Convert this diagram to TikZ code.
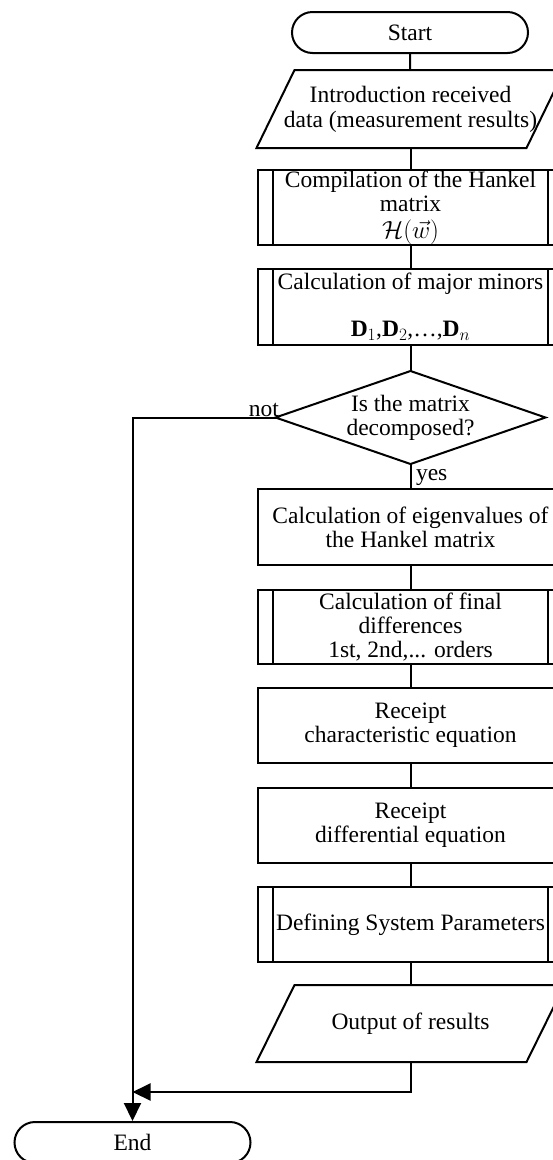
\documentclass[tikz,border=0pt]{standalone}
\usepackage{fontspec}
\setmainfont{Liberation Serif}
\usetikzlibrary{arrows.meta}
\begin{document}
\begin{tikzpicture}[x=1pt,y=-1pt,line width=2pt,
  every node/.style={font=\fontsize{23.5}{24}\selectfont, align=center, inner sep=0pt},
  box/.style={draw, line width=2pt, minimum width=305pt, minimum height=75pt},
  predef/.style={box, path picture={
      \draw[line width=2pt] ([xshift=15pt]path picture bounding box.north west) -- ([xshift=15pt]path picture bounding box.south west)
        ([xshift=-15pt]path picture bounding box.north east) -- ([xshift=-15pt]path picture bounding box.south east);}},
  term/.style={draw, line width=2pt, rounded corners=20.5pt, minimum width=236pt, minimum height=41pt},
  io/.style={minimum width=268pt, minimum height=76pt},
  dec/.style={minimum width=268pt, minimum height=91pt},
  conn/.style={line width=2pt},
  arr/.style={line width=2pt, -{Triangle[length=18pt,width=17pt]}}
]
\useasboundingbox (0,0) rectangle (552,1160);

\node[term] (start) at (410,32.5) {Start};
\node[io, font=\fontsize{23.5}{25}\selectfont] (in) at (410.5,109) {Introduction received\\data (measurement results)};
\draw[conn] ([xshift=-19pt]in.south west) -- ([xshift=19pt]in.north west) -- ([xshift=19pt]in.north east) -- ([xshift=-19pt]in.south east) -- cycle;
\node[predef, font=\fontsize{23.5}{24}\selectfont] (hank) at (410.5,207.5) {Compilation of the Hankel\\matrix\\[3pt]$\mathcal{H}(\vec{w})$};
\node[predef, minimum height=76pt] (minors) at (410.5,307) {Calculation of major minors\\[23pt]\textbf{D}$_1$,\textbf{D}$_2$,\ldots,\textbf{D}$_n$};
\node[dec] (dia) at (410.5,417.5) {Is the matrix\\decomposed?};
\draw[conn] (dia.north) -- (dia.east) -- (dia.south) -- (dia.west) -- cycle;
\node[box, minimum height=76pt] (eig) at (410.5,527) {Calculation of eigenvalues of\\the Hankel matrix};
\node[predef, minimum height=74pt] (diff) at (410.5,627) {Calculation of final\\differences\\1st, 2nd,... orders};
\node[box] (char) at (410.5,725.5) {Receipt\\characteristic equation};
\node[box] (deq) at (410.5,825.5) {Receipt\\differential equation};
\node[predef] (defs) at (410.5,924.5) {Defining System Parameters};
\node[io, minimum height=75pt] (out) at (410.5,1023.5) {Output of results};
\draw[conn] ([xshift=-19pt]out.south west) -- ([xshift=19pt]out.north west) -- ([xshift=19pt]out.north east) -- ([xshift=-19pt]out.south east) -- cycle;
\node[term] (end) at (132.5,1142.5) {End};

\node[anchor=base east] (notl) at (280,416) {not};
\node[anchor=base west] (yesl) at (415,480) {yes};

\coordinate (j) at (132.5,1092);

\draw[conn] (start) -- (in);
\draw[conn] (in) -- (hank);
\draw[conn] (hank) -- (minors);
\draw[conn] (minors) -- (dia);
\draw[conn] (dia) -- (eig);
\draw[conn] (eig) -- (diff);
\draw[conn] (diff) -- (char);
\draw[conn] (char) -- (deq);
\draw[conn] (deq) -- (defs);
\draw[conn] (defs) -- (out);
\draw[arr] (out.south) |- (j);
\draw[arr] (dia.west) -| (end.north);
\end{tikzpicture}
\end{document}
